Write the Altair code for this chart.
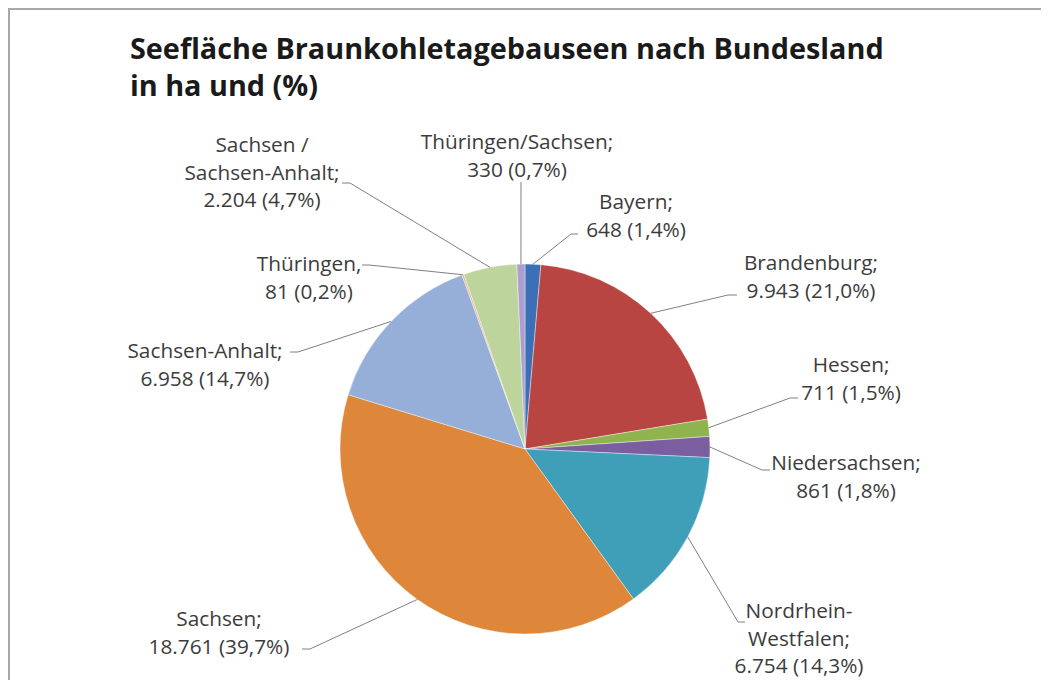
import altair as alt
import pandas as pd

# ---------------- data ----------------
CATEGORIES = ["Bayern", "Brandenburg", "Hessen", "Niedersachsen", "Nordrhein-Westfalen",
              "Sachsen", "Sachsen-Anhalt", "Thüringen", "Sachsen / Sachsen-Anhalt",
              "Thüringen/Sachsen"]
VALUES_HA = [648, 9943, 711, 861, 6754, 18761, 6958, 81, 2204, 330]
LABEL_NAMES = [["Bayern;"], ["Brandenburg;"], ["Hessen;"], ["Niedersachsen;"],
               ["Nordrhein-", "Westfalen;"], ["Sachsen;"], ["Sachsen-Anhalt;"],
               ["Thüringen,"], ["Sachsen /", "Sachsen-Anhalt;"], ["Thüringen/Sachsen;"]]
TITLE_LINES = ["Seefläche Braunkohletagebauseen nach Bundesland", "in ha und (%)"]

# ---------------- style / layout ----------------
COLORS = ["#3b6fb6", "#b94542", "#8fb34d", "#7a5ea0", "#3f9fb9", "#de863a",
          "#95afd8", "#e8b89a", "#bdd49d", "#ac9fcf"]
OFF = 8                       # page margin
CX, CY, R = 525 - OFF, 449 - OFF, 185
LABEL_X = [636, 811, 851, 846, 799, 219, 205, 309, 262, 517]
LABEL_Y1 = [203, 264, 366, 464, 612, 620, 352, 265, 146, 143]
LINE_H = 27.5
ELBOW_X = [571, 728, 790, 762, 738, 310, 298, 369, 350, 521]
ELBOW_Y = [234, 295, 398, 470, 622, 649, 352, 265, 183, 182]
STUB_X = [578, 737, 798, 770, 745, 302, 290, 362, 342, 521]
STUB_Y = [234, 295, 398, 470, 622, 649, 352, 265, 183, 182]
LABEL_FONT = "Open Sans"
W, H = 1051 - 2 * OFF, 688 - 2 * OFF

total = sum(VALUES_HA)


def fmt(v):
    pct = f"{v / total * 100:.1f}".replace(".", ",")
    return f"{v:,}".replace(",", ".") + f" ({pct}%)"


slices = pd.DataFrame({
    "idx": range(len(CATEGORIES)),
    "cat": CATEGORIES,
    "value": VALUES_HA,
    "ex": [x - OFF for x in ELBOW_X],
    "ey": [y - OFF for y in ELBOW_Y],
    "tx": [x - OFF for x in STUB_X],
    "ty": [y - OFF for y in STUB_Y],
})

rows = []
for i, (names, v) in enumerate(zip(LABEL_NAMES, VALUES_HA)):
    for j, line in enumerate(names + [fmt(v)]):
        rows.append({"cat": CATEGORIES[i], "text": line,
                     "x": LABEL_X[i] - OFF, "y": LABEL_Y1[i] - OFF + j * LINE_H})
labels = pd.DataFrame(rows)

color = alt.Color("cat:N", scale=alt.Scale(domain=CATEGORIES, range=COLORS), legend=None)

base = alt.Chart(slices)

pie = base.mark_arc(radius=R, stroke="white", strokeWidth=0.4).encode(
    theta=alt.Theta("value:Q", stack=True),
    order=alt.Order("idx:Q"),
    color=color,
    x=alt.value(CX), y=alt.value(CY),
)

lead = base.transform_joinaggregate(total="sum(value)").transform_window(
    cum="sum(value)", sort=[alt.SortField("idx")]
).transform_calculate(
    mid=f"(datum.cum - datum.value/2) / datum.total * 2 * PI",
).transform_calculate(
    sx=f"{CX} + {R} * sin(datum.mid)",
    sy=f"{CY} - {R} * cos(datum.mid)",
)

seg1 = lead.mark_rule(color="#808080", strokeWidth=1).encode(
    x=alt.X("sx:Q", scale=None), y=alt.Y("sy:Q", scale=None),
    x2="ex:Q", y2="ey:Q",
)
seg2 = base.mark_rule(color="#808080", strokeWidth=1).encode(
    x=alt.X("ex:Q", scale=None), y=alt.Y("ey:Q", scale=None),
    x2="tx:Q", y2="ty:Q",
)

txt = alt.Chart(labels).mark_text(font=LABEL_FONT, fontSize=20.8, color="#3c3c3c",
                                  align="center", baseline="middle").encode(
    x=alt.X("x:Q", scale=None), y=alt.Y("y:Q", scale=None), text="text:N",
)

title_df = pd.DataFrame({"text": TITLE_LINES, "y": [59 - OFF, 96 - OFF]})
title = alt.Chart(title_df).mark_text(font="Open Sans", fontSize=28.8, fontWeight="bold",
                                      color="#1a1a1a", align="left",
                                      baseline="alphabetic").encode(
    x=alt.value(130 - OFF), y=alt.Y("y:Q", scale=None), text="text:N",
)

frame_top = alt.Chart(slices).mark_rule(color="#a8a8a8", strokeWidth=2).encode(
    x=alt.value(0), x2=alt.value(1041 - OFF), y=alt.value(1))
frame_left = alt.Chart(slices).mark_rule(color="#a8a8a8", strokeWidth=2).encode(
    x=alt.value(1), y=alt.value(0), y2=alt.value(H))

chart = alt.layer(frame_top, frame_left, pie, seg1, seg2, txt, title).properties(
    width=W, height=H, padding=0, autosize=alt.AutoSizeParams(type="none"),
    background="white",
).configure_view(stroke=None)

chart.save("out.html", embed_options={"renderer": "svg", "actions": False})
